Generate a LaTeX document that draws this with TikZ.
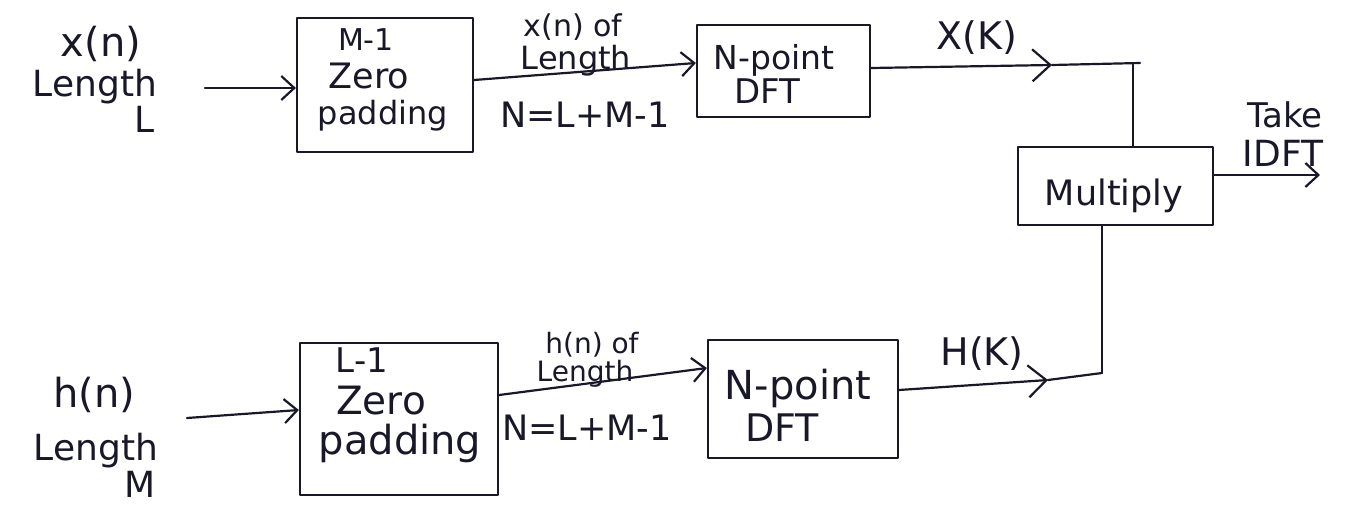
\documentclass[tikz,border=0pt]{standalone}
\usepackage{fontspec}
\setmainfont{DejaVu Sans}
\usetikzlibrary{arrows.meta,calc}
\definecolor{ink}{RGB}{24,24,40}
% font size helper: size in pt
\newcommand{\pfsize}[1]{\fontsize{#1}{#1}\selectfont}
\begin{document}
\begin{tikzpicture}[x=1pt,y=-1pt,line width=2.2pt,line cap=round,line join=round,
  every node/.style={text=ink,inner sep=0pt},
  blockbox/.style={draw=ink},
  txt/.style={anchor=base},
  wire/.style={draw=ink},
  arr/.style={draw=ink,-{Straight Barb[length=13pt,width=24pt]}},
  bigarr/.style={draw=ink,-{Straight Barb[length=18pt,width=32pt]}}]
\useasboundingbox (0,0) rectangle (1346,505);

% ---------- blocks ----------
\node[blockbox,minimum width=176,minimum height=134] (pad1) at (385,85) {};
\node[blockbox,minimum width=173,minimum height=92]  (dft1) at (783.5,71) {};
\node[blockbox,minimum width=195,minimum height=78]  (mulbox) at (1115.5,186) {};
\node[blockbox,minimum width=198,minimum height=152] (pad2) at (399,419) {};
\node[blockbox,minimum width=190,minimum height=118] (dft2) at (803,399) {};

% ---------- text inside the blocks ----------
\node[txt,font=\pfsize{30}] (pad1a) at (366,51)  {M-1};
\node[txt,font=\pfsize{35}] (pad1b) at (369,89)  {Zero};
\node[txt,font=\pfsize{32}] (pad1c) at (383,125) {padding};
\node[txt,font=\pfsize{33}] (dft1a) at (774,70)  {N-point};
\node[txt,font=\pfsize{34}] (dft1b) at (767,104) {DFT};
\node[txt,font=\pfsize{35}] (multxt) at (1114,205) {Multiply};
\node[txt,font=\pfsize{34}] (pad2a) at (362,372) {L-1};
\node[txt,font=\pfsize{39}] (pad2b) at (381,414) {Zero};
\node[txt,font=\pfsize{40}] (pad2c) at (400,454) {padding};
\node[txt,font=\pfsize{40}] (dft2a) at (798,399) {N-point};
\node[txt,font=\pfsize{38}] (dft2b) at (782,441) {DFT};

% ---------- input labels ----------
\node[txt,font=\pfsize{40}] (xn)   at (101,57)  {x(n)};
\node[txt,font=\pfsize{36}] (xlen) at (95,97)   {Length};
\node[txt,font=\pfsize{36}] (xL)   at (145,133) {L};
\node[txt,font=\pfsize{40}] (hn)   at (94,407)  {h(n)};
\node[txt,font=\pfsize{36}] (hlen) at (96,460)  {Length};
\node[txt,font=\pfsize{36}] (hM)   at (140,497) {M};

% ---------- connector labels ----------
\node[txt,font=\pfsize{30}] (e1a) at (573,37)  {x(n) of};
\node[txt,font=\pfsize{32}] (e1b) at (576,70)  {Length};
\node[txt,font=\pfsize{35}] (e1c) at (585,128) {N=L+M-1};
\node[txt,font=\pfsize{28}] (e2a) at (592,353) {h(n) of};
\node[txt,font=\pfsize{28}] (e2b) at (585,381) {Length};
\node[txt,font=\pfsize{35}] (e2c) at (587,440) {N=L+M-1};
\node[txt,font=\pfsize{38}] (xk)  at (977,50)  {X(K)};
\node[txt,font=\pfsize{38}] (hk)  at (982,365) {H(K)};
\node[txt,font=\pfsize{34}] (take) at (1285,128) {Take};
\node[txt,font=\pfsize{36}] (idft) at (1283,167) {IDFT};

% ---------- connectors ----------
\coordinate (xin) at (205,88);
\coordinate (hin) at (187,418);
\coordinate (xtip) at (1052,65);
\coordinate (htip) at (1048,380);
\coordinate (jtop) at (1133,63);
\coordinate (jbot) at (1102,373);
\coordinate (yout) at (1320,175);

\draw[arr] (xin) -- (xin -| pad1.west);
\draw[arr] ($(pad1.east)+(0,-5)$) -- ($(dft1.west)+(0,-8)$);
\draw[bigarr] ($(dft1.east)+(0,-3)$) -- (xtip);
\draw[wire] (xtip) -- ($(jtop)+(7,0)$);
\draw[wire] (jtop) -- (jtop |- mulbox.north);
\draw[arr] (mulbox.east |- yout) -- (yout);

\draw[arr] (hin) -- ($(pad2.west)+(0,-9)$);
\draw[arr] ($(pad2.east)+(0,-24)$) -- ($(dft2.west)+(0,-31)$);
\draw[bigarr] ($(dft2.east)+(0,-9)$) -- (htip);
\draw[wire] (htip) -- (jbot);
\draw[wire] (jbot) -- (jbot |- mulbox.south);
\end{tikzpicture}
\end{document}
